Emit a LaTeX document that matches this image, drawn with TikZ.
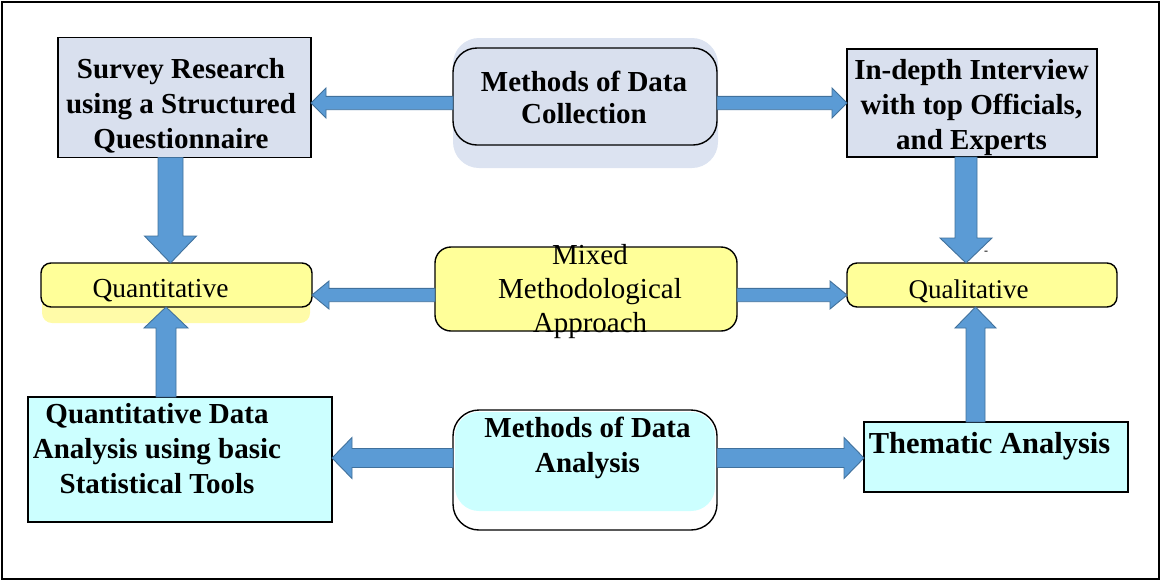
\documentclass[tikz,border=0pt]{standalone}
\usepackage{fontspec}
\setmainfont{Liberation Serif}
\usetikzlibrary{calc,positioning}

\definecolor{greybox}{RGB}{217,224,238}
\definecolor{glowblue}{RGB}{220,227,241}
\definecolor{paleyellow}{RGB}{255,255,153}
\definecolor{shadowyellow}{RGB}{255,251,168}
\definecolor{palecyan}{RGB}{204,255,255}
\definecolor{arrowblue}{RGB}{91,155,213}
\definecolor{arrowedge}{RGB}{65,113,156}

\newcommand{\boldtext}{\fontsize{29}{35}\selectfont\bfseries}
\newcommand{\plaintext}{\fontsize{27.5}{33.5}\selectfont}

% block arrows: start, tip, half shaft, half head, head length
\newcommand{\harrow}[5]{%
  \filldraw[blockarrow] let \p1=(#1), \p2=(#2), \p3=($(\x2,\y1)!#5!(\p1)$) in
    (\x1,\y1+#3) -- (\x3,\y1+#3) -- (\x3,\y1+#4) -- (\x2,\y1)
    -- (\x3,\y1-#4) -- (\x3,\y1-#3) -- (\x1,\y1-#3) -- cycle;}
\newcommand{\varrow}[5]{%
  \filldraw[blockarrow] let \p1=(#1), \p2=(#2), \p3=($(\x1,\y2)!#5!(\p1)$) in
    (\x1+#3,\y1) -- (\x1+#3,\y3) -- (\x1+#4,\y3) -- (\x1,\y2)
    -- (\x1-#4,\y3) -- (\x1-#3,\y3) -- (\x1-#3,\y1) -- cycle;}

\begin{document}
\begin{tikzpicture}[x=1pt,y=-1pt,
  box/.style={draw,line width=1.4pt,inner sep=0pt,outer sep=0pt},
  roundbox/.style={box,rounded corners=#1},
  boldlabel/.style={font=\boldtext,align=center,inner sep=0pt},
  plainlabel/.style={font=\plaintext,align=center,inner sep=0pt},
  blockarrow/.style={fill=arrowblue,draw=arrowedge,line width=0.9pt}]
\useasboundingbox (0,0) rectangle (1162,582);
\draw[line width=1.6pt] (2,2) rectangle (1159,579);

% top row
\fill[glowblue,rounded corners=26pt] (453,38) rectangle (718,168);
\node[box,fill=greybox,minimum width=253pt,minimum height=120pt] (survey) at (184.5,97.5) {};
\node[roundbox=24pt,fill=greybox,minimum width=264pt,minimum height=97pt] (collect) at (585,96.5) {};
\node[box,fill=greybox,minimum width=250pt,minimum height=108pt] (interview) at (972,103) {};

% middle row
\fill[shadowyellow,rounded corners=10pt] (42,272) rectangle (310,323);
\node[roundbox=10pt,fill=paleyellow,minimum width=271pt,minimum height=44pt] (quant) at (176.5,285) {};
\node[roundbox=16pt,fill=paleyellow,minimum width=302pt,minimum height=84pt] (mixed) at (586,289) {};
\node[roundbox=10pt,fill=paleyellow,minimum width=270pt,minimum height=44pt] (qual) at (982,285) {};

% bottom row
\node[box,fill=palecyan,minimum width=304pt,minimum height=125pt] (quantdata) at (180,459.5) {};
\fill[palecyan,rounded corners=24pt] (455,412) rectangle (715,511);
\node[roundbox=26pt,minimum width=264pt,minimum height=120pt] (analysis) at (585,470) {};
\node[box,fill=palecyan,minimum width=264pt,minimum height=70pt] (thematic) at (996,457) {};

% texts
\node[boldlabel] (survey-t) at (181,106) {Survey Research\\using a Structured\\Questionnaire};
\node[boldlabel,font=\fontsize{29}{32}\selectfont\bfseries] (collect-t) at (584,97.5) {Methods of Data\\Collection};
\node[boldlabel] (interview-t) at (971.5,107.5) {In-depth Interview\\with top Officials,\\and Experts};
\node[plainlabel,anchor=base] (quant-t) at (160.5,297.5) {Quantitative};
\node[plainlabel,font=\fontsize{29}{34}\selectfont] (mixed-t) at (590,291.5) {Mixed\\Methodological\\Approach};
\node[plainlabel,anchor=base,font=\fontsize{27}{33}\selectfont] (qual-t) at (968.5,298) {Qualitative};
\node[font=\fontsize{12}{12}\selectfont,inner sep=0pt] (dash) at (986,253) {-};
\node[boldlabel] (quantdata-t) at (157,449) {Quantitative Data\\Analysis using basic\\Statistical Tools};
\node[boldlabel] (analysis-t) at (587.5,447.5) {Methods of Data\\Analysis};
\node[boldlabel,anchor=base,font=\fontsize{30.5}{35}\selectfont\bfseries] (thematic-t) at (989.5,453) {Thematic Analysis};

% connectors
\harrow{$(collect.west)+(0,6.5)$}{survey.east}{6.7pt}{15pt}{15pt}
\harrow{$(collect.east)+(0,6.5)$}{interview.west}{6.7pt}{15pt}{15pt}
\varrow{$(survey.south)+(-14,0)$}{quant.north}{12.5pt}{26pt}{27pt}
\varrow{$(interview.south)+(-6,0)$}{qual.north}{11pt}{26pt}{25pt}
\harrow{$(mixed.west)+(0,6)$}{quant.east}{6.7pt}{14pt}{17pt}
\harrow{$(mixed.east)+(0,6)$}{qual.west}{6.7pt}{14pt}{17pt}
\varrow{$(quantdata.north)+(-14,0)$}{quant.south}{10pt}{22pt}{21pt}
\varrow{$(thematic.north)+(-20.5,0)$}{qual.south}{9.5pt}{20.5pt}{21pt}
\harrow{$(analysis.west)+(0,-12)$}{quantdata.east}{9.5pt}{20.5pt}{20pt}
\harrow{$(analysis.east)+(0,-12)$}{thematic.west}{9.5pt}{20.5pt}{20pt}
\end{tikzpicture}
\end{document}
